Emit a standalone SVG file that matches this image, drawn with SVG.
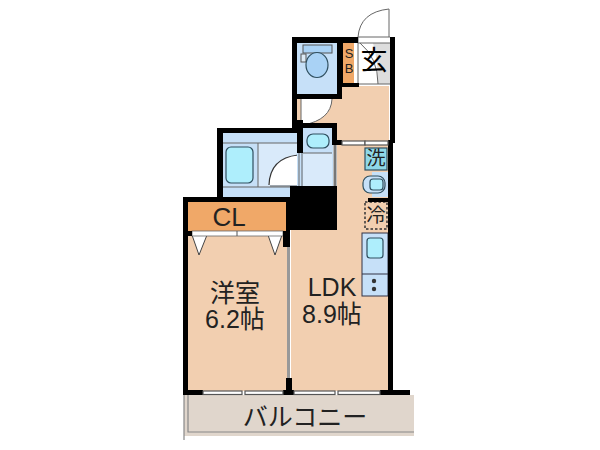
<svg xmlns="http://www.w3.org/2000/svg" width="600" height="450" viewBox="0 0 600 450">
<style>
text{font-family:"Liberation Sans","Noto Sans CJK JP",sans-serif;fill:#222;text-anchor:middle}
.w{fill:#000}.r{fill:#f2cfb0}.b{fill:#c6e0f8}.c{fill:#aeeefc;stroke:#2f4f5f;stroke-width:1.2}
.g{fill:none;stroke:#666;stroke-width:1}.a{fill:#fff;stroke:#555;stroke-width:1.2}
.t{font-size:25px}
</style>
<rect width="600" height="450" fill="#fff"/>
<g id="balcony">
<rect x="184" y="395" width="230" height="41" fill="#e0d6cc"/>
<path d="M184 395V440M188 395V432H414" fill="none" stroke="#888" stroke-width="1.2"/>
<text class="t" x="305" y="426">バルコニー</text>
</g>
<g id="western-room">
<rect class="r" x="188" y="232" width="99" height="159"/>
<path d="M192 235H207L199 255ZM268 235H282L275 255Z" fill="#fff" stroke="#444" stroke-width="1"/>
<text class="t" x="235" y="302">洋室</text>
<text class="t" x="235" y="328">6.2帖</text>
</g>
<g id="closet">
<rect x="188" y="202" width="98" height="29" fill="#f0a868"/>
<rect x="192" y="231" width="91" height="5" fill="#fff" stroke="#666" stroke-width=".8"/>
<path d="M237 231V236" stroke="#555"/>
<text x="229" y="226" font-size="26">CL</text>
</g>
<g id="ldk">
<path class="r" d="M337 143H389V391H291V230H337Z"/>
<path class="r" d="M297 86H389V143H337V123H297Z"/>
<text class="t" x="332" y="296">LDK</text>
<text class="t" x="332" y="323">8.9帖</text>
</g>
<g id="toilet">
<rect class="b" x="297" y="43" width="40" height="51"/>
<rect x="303" y="45" width="29" height="8" fill="#a9d2f5" stroke="#555"/>
<rect x="301" y="54" width="5" height="8" fill="#dceaf5" stroke="#555"/>
<ellipse cx="317" cy="65" rx="11" ry="12.500" fill="#a9d2f5" stroke="#2f4f5f" stroke-width="1.200"/>
<path d="M301 99H332Q331 120 303 125H301Z" fill="#fff"/>
<path class="g" d="M332 99Q331 120 303 125M301 99V125"/>
</g>
<g id="storage">
<rect x="343" y="43" width="11" height="40" fill="#f0a868"/>
<text x="349" y="58" font-size="13">S</text>
<text x="349" y="73" font-size="13">B</text>
</g>
<g id="entrance">
<path d="M373 43H390V84H378Q378 60 373 43Z" fill="#ddd"/>
<path class="g" d="M358 37V84M358 43H390M358 37H390M359 84H390M360 43Q378 58 378 84"/>
<path class="g" d="M389 9V37M358 37Q360 12 389 9"/>
<text x="374" y="70" font-size="27" style="fill:#000">玄</text>
</g>
<g id="bath">
<rect class="b" x="223" y="133" width="74" height="64"/>
<rect x="258" y="143" width="39" height="44" fill="#d9eafa"/>
<path class="g" d="M223 143H297M258 143V187M223 187H297M270 186H298"/>
<rect class="c" x="226" y="147" width="27" height="36" rx="5"/>
<path d="M269 185Q270 158 298 155V185Z" fill="#fff"/>
<path d="M269 185Q270 158 298 155" fill="none" stroke="#333" stroke-width="1.200"/>
</g>
<g id="washroom">
<rect class="b" x="297" y="128" width="36" height="58"/>
<rect x="303" y="153" width="29" height="33" fill="#d9eafa"/>
<path class="g" d="M303 153H332M299 153V186M302 153V186"/>
<rect class="c" x="307" y="134" width="22" height="14" rx="6"/>
</g>
<g id="kitchen">
<rect class="c" x="365" y="148" width="22" height="22" style="fill:#8fd8e8"/>
<text x="376" y="165" font-size="19">洗</text>
<rect class="b" x="372" y="172" width="16" height="25"/>
<rect x="363" y="176" width="22" height="17" rx="7" fill="#c6e0f8" stroke="#2f4f5f" stroke-width="1.200"/>
<rect class="c" x="370" y="179" width="13" height="11" rx="3"/>
<rect x="365" y="202" width="22" height="27" fill="none" stroke="#333" stroke-width="1.500" stroke-dasharray="2.500 2"/>
<text x="376" y="222" font-size="19">冷</text>
<rect x="362" y="233" width="26" height="63" fill="#c6e0f8" stroke="#334" stroke-width="1"/>
<path d="M362 274H388" stroke="#334"/>
<rect class="c" x="367" y="238" width="16" height="20" rx="3"/>
<circle cx="374" cy="281" r="2.200" fill="#333"/>
<circle cx="374" cy="289" r="2.200" fill="#333"/>
</g>
<g id="connectors">
<g class="w">
<rect x="292" y="37" width="66" height="6"/><rect x="390" y="37" width="5" height="106"/>
<rect x="388" y="140" width="5" height="255"/><rect x="292" y="37" width="5" height="91"/>
<rect x="337" y="43" width="5" height="56"/><rect x="292" y="94" width="50" height="5"/>
<rect x="342" y="83" width="17" height="4"/><rect x="297" y="120" width="6" height="33"/>
<rect x="217" y="128" width="80" height="5"/><rect x="217" y="128" width="6" height="73"/>
<rect x="183" y="197" width="107" height="5"/><rect x="183" y="197" width="5" height="198"/>
<rect x="303" y="123" width="34" height="5"/><rect x="332" y="123" width="5" height="22"/>
<rect x="337" y="140" width="5" height="5"/><rect x="183" y="231" width="9" height="5"/>
<rect x="283" y="231" width="7" height="16"/><rect x="286" y="202" width="4" height="29"/>
<rect x="290" y="186" width="47" height="44"/><rect x="286" y="378" width="6" height="17"/>
<rect x="183" y="390" width="20" height="5"/><rect x="283" y="390" width="11" height="5"/>
<rect x="380" y="390" width="30" height="5"/><rect x="368" y="198" width="20" height="4"/>
<rect x="342" y="43" width="1" height="40"/>
</g>
<path d="M335 145V186" stroke="#777" stroke-width="3"/>
<path d="M288.500 247V378" stroke="#999" stroke-width="3"/>
<rect class="a" x="342" y="141" width="23" height="4"/><rect class="a" x="365" y="141" width="23" height="4"/>
<rect class="a" x="203" y="391" width="39" height="3.500"/><rect class="a" x="245" y="391" width="38" height="3.500"/>
<rect class="a" x="294" y="391" width="41" height="3.500"/><rect class="a" x="338" y="391" width="42" height="3.500"/>
</g>
</svg>
